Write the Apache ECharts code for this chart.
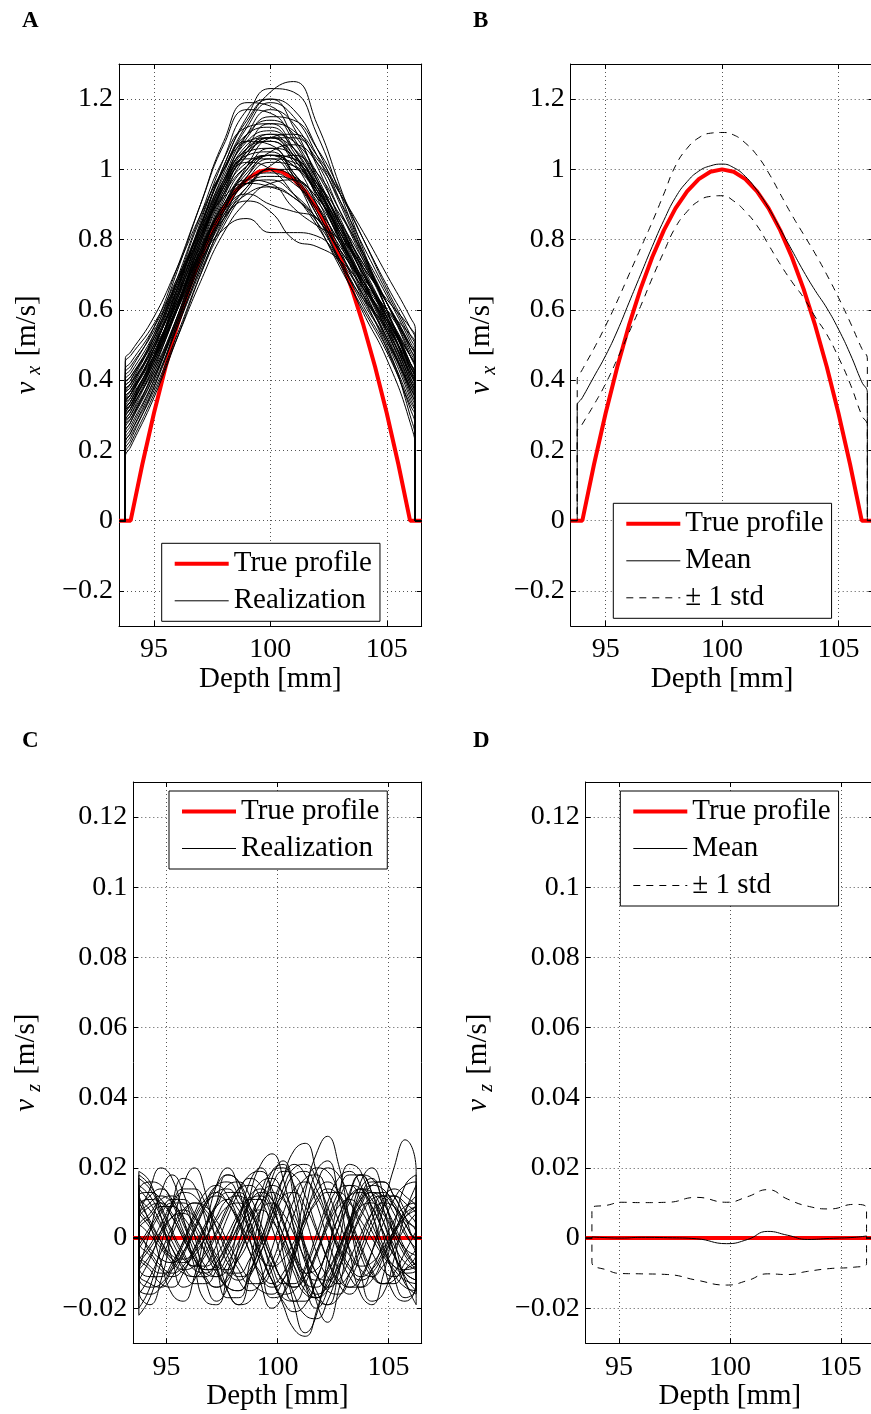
<!DOCTYPE html>
<html><head><meta charset="utf-8">
<script src="https://cdn.jsdelivr.net/npm/echarts@6/dist/echarts.min.js"></script>
<style>html,body{margin:0;padding:0;background:#fff}#chart{width:871px;height:1414px}</style>
</head><body><div id="chart"></div>
<script>
// ---------- axis ticks ----------
const depthTicks = [95, 100, 105];
const vxTicks = [-0.2, 0, 0.2, 0.4, 0.6, 0.8, 1, 1.2];
const vzTicks = [-0.02, 0, 0.02, 0.04, 0.06, 0.08, 0.1, 0.12];
const XMIN = 93.5, XMAX = 106.5;

// ---------- true profiles ----------
const trueDepth = [93.5, 94, 94.5, 95, 95.5, 96, 96.5, 97, 97.5, 98, 98.5, 99, 99.5, 100, 100.5, 101, 101.5, 102, 102.5, 103, 103.5, 104, 104.5, 105, 105.5, 106, 106.5];
const trueVx = [0, 0, 0.1597, 0.3056, 0.4375, 0.5556, 0.6597, 0.75, 0.8264, 0.8889, 0.9375, 0.9722, 0.9931, 1, 0.9931, 0.9722, 0.9375, 0.8889, 0.8264, 0.75, 0.6597, 0.5556, 0.4375, 0.3056, 0.1597, 0, 0];
const trueVzDepth = [93.5, 106.5];
const trueVz = [0, 0];

// ---------- panel A: vx realizations ----------
const vxRealDepth = [93.77, 94, 95, 96, 97, 98, 99, 100, 101, 102, 103, 104, 105, 106, 106.23];
const vxRealizations = [
 [0.30,0.33,0.46,0.63,0.80,0.95,1.05,1.08,1.02,0.90,0.76,0.64,0.52,0.38,0.34],
 [0.38,0.40,0.52,0.68,0.84,0.98,1.10,1.14,1.10,0.98,0.84,0.70,0.58,0.45,0.41],
 [0.22,0.25,0.38,0.55,0.72,0.86,0.93,0.95,0.92,0.85,0.74,0.62,0.50,0.30,0.22],
 [0.41,0.43,0.55,0.72,0.90,1.07,1.17,1.16,1.08,0.96,0.83,0.70,0.59,0.47,0.43],
 [0.27,0.30,0.44,0.60,0.77,0.89,0.96,0.98,0.97,0.92,0.82,0.70,0.57,0.41,0.37],
 [0.35,0.37,0.48,0.62,0.79,0.94,1.02,1.00,0.93,0.84,0.73,0.63,0.55,0.44,0.40],
 [0.31,0.34,0.47,0.64,0.82,0.99,1.12,1.19,1.15,1.04,0.90,0.75,0.60,0.43,0.38],
 [0.19,0.22,0.36,0.52,0.68,0.82,0.91,0.96,0.97,0.91,0.80,0.68,0.55,0.40,0.35],
 [0.45,0.47,0.56,0.69,0.83,0.97,1.05,1.06,0.99,0.88,0.76,0.66,0.57,0.47,0.44],
 [0.33,0.36,0.49,0.66,0.85,1.03,1.17,1.20,1.12,0.97,0.80,0.65,0.52,0.37,0.32],
 [0.28,0.31,0.45,0.61,0.76,0.88,0.93,0.90,0.88,0.86,0.78,0.67,0.56,0.42,0.38],
 [0.36,0.38,0.50,0.64,0.78,0.90,0.99,1.05,1.07,1.02,0.91,0.78,0.65,0.52,0.48],
 [0.24,0.27,0.40,0.57,0.74,0.89,1.00,1.06,1.04,0.95,0.81,0.66,0.51,0.35,0.30],
 [0.39,0.41,0.51,0.65,0.81,0.96,1.07,1.10,1.04,0.93,0.80,0.67,0.54,0.39,0.35],
 [0.30,0.32,0.43,0.58,0.75,0.91,1.01,1.04,1.01,0.94,0.84,0.73,0.62,0.49,0.45],
 [0.34,0.37,0.50,0.67,0.83,0.96,1.03,1.03,0.97,0.87,0.74,0.61,0.49,0.34,0.30],
 [0.26,0.29,0.42,0.58,0.76,0.93,1.06,1.13,1.11,1.02,0.88,0.74,0.60,0.45,0.40],
 [0.42,0.44,0.54,0.68,0.82,0.92,0.96,0.95,0.92,0.86,0.77,0.67,0.57,0.45,0.41],
 [0.32,0.35,0.49,0.66,0.84,1.01,1.15,1.23,1.22,1.10,0.93,0.76,0.60,0.44,0.39],
 [0.21,0.24,0.37,0.53,0.70,0.84,0.94,1.00,1.00,0.94,0.83,0.70,0.57,0.42,0.37],
 [0.37,0.39,0.50,0.64,0.80,0.95,1.04,1.05,0.99,0.90,0.79,0.69,0.60,0.50,0.47],
 [0.29,0.32,0.46,0.63,0.81,0.97,1.08,1.11,1.06,0.95,0.81,0.67,0.53,0.37,0.32],
 [0.35,0.37,0.47,0.60,0.74,0.83,0.86,0.82,0.82,0.81,0.74,0.64,0.54,0.42,0.38],
 [0.31,0.33,0.45,0.61,0.79,0.95,1.06,1.09,1.04,0.94,0.82,0.70,0.58,0.44,0.40],
 [0.40,0.42,0.53,0.67,0.82,0.97,1.09,1.15,1.14,1.06,0.94,0.80,0.66,0.53,0.49],
 [0.25,0.28,0.41,0.57,0.73,0.87,0.97,1.02,1.01,0.95,0.85,0.74,0.62,0.49,0.44],
 [0.36,0.38,0.51,0.68,0.86,1.00,1.08,1.07,0.98,0.85,0.72,0.60,0.48,0.33,0.29],
 [0.33,0.35,0.46,0.60,0.76,0.90,1.00,1.04,1.03,0.96,0.85,0.72,0.58,0.41,0.36],
 [0.18,0.21,0.35,0.52,0.70,0.86,0.98,1.04,1.03,0.95,0.82,0.68,0.54,0.39,0.34],
 [0.38,0.40,0.53,0.71,0.90,1.08,1.19,1.18,1.09,0.97,0.84,0.71,0.59,0.45,0.41],
 [0.30,0.33,0.47,0.62,0.76,0.87,0.95,1.01,1.04,0.99,0.88,0.75,0.62,0.48,0.44],
 [0.34,0.36,0.48,0.63,0.77,0.89,0.96,0.97,0.93,0.86,0.77,0.68,0.60,0.53,0.50],
 [0.28,0.31,0.44,0.60,0.78,0.94,1.05,1.10,1.08,0.99,0.86,0.71,0.56,0.40,0.35],
 [0.43,0.45,0.55,0.68,0.81,0.93,1.01,1.04,1.01,0.93,0.81,0.68,0.55,0.40,0.36],
 [0.27,0.29,0.41,0.56,0.72,0.88,1.01,1.09,1.10,1.04,0.93,0.80,0.67,0.55,0.51],
 [0.32,0.34,0.47,0.65,0.84,1.00,1.10,1.12,1.05,0.92,0.77,0.63,0.51,0.38,0.34],
 [0.37,0.39,0.49,0.62,0.77,0.90,0.97,0.99,0.96,0.89,0.79,0.68,0.58,0.47,0.43],
 [0.23,0.26,0.40,0.58,0.77,0.93,1.02,1.04,0.98,0.87,0.73,0.59,0.46,0.28,0.19],
 [0.33,0.36,0.49,0.66,0.84,1.00,1.13,1.22,1.25,1.13,0.95,0.77,0.60,0.43,0.38],
 [0.31,0.34,0.46,0.61,0.77,0.90,0.97,0.96,0.89,0.84,0.80,0.72,0.62,0.50,0.46],
 [0.20,0.23,0.38,0.56,0.75,0.92,1.04,1.09,1.06,0.97,0.84,0.71,0.58,0.44,0.40],
 [0.46,0.48,0.58,0.72,0.87,1.00,1.08,1.09,1.03,0.93,0.82,0.72,0.63,0.55,0.52],
 [0.29,0.32,0.46,0.64,0.83,1.01,1.14,1.20,1.17,1.06,0.91,0.76,0.62,0.47,0.42],
 [0.34,0.36,0.47,0.61,0.75,0.86,0.91,0.88,0.80,0.78,0.74,0.66,0.56,0.43,0.39],
 [0.25,0.28,0.43,0.61,0.80,0.96,1.06,1.08,1.03,0.93,0.80,0.66,0.52,0.36,0.31],
 [0.39,0.41,0.52,0.66,0.81,0.95,1.04,1.09,1.09,1.03,0.93,0.82,0.70,0.58,0.54],
 [0.31,0.33,0.45,0.61,0.79,0.96,1.10,1.17,1.13,1.01,0.85,0.69,0.54,0.38,0.33],
 [0.22,0.25,0.39,0.55,0.71,0.85,0.95,1.00,0.98,0.92,0.83,0.73,0.62,0.50,0.46],
 [0.36,0.39,0.52,0.69,0.87,1.03,1.12,1.13,1.06,0.94,0.79,0.64,0.49,0.32,0.26],
 [0.28,0.30,0.42,0.57,0.73,0.88,0.98,1.03,1.02,0.96,0.87,0.76,0.64,0.51,0.47]
];

// ---------- panel B: vx mean and +/- 1 std ----------
const vxStatDepth = [93.78, 94, 94.5, 95, 95.5, 96, 96.5, 97, 97.5, 98, 98.5, 99, 99.5, 100, 100.5, 101, 101.5, 102, 102.5, 103, 103.5, 104, 104.5, 105, 105.5, 106, 106.24];
const vxMean  = [0.326, 0.35, 0.41, 0.47, 0.54, 0.62, 0.70, 0.78, 0.855, 0.92, 0.965, 0.995, 1.01, 1.015, 1.005, 0.98, 0.94, 0.89, 0.83, 0.77, 0.71, 0.655, 0.605, 0.545, 0.475, 0.395, 0.364];
const vxUpper = [0.40, 0.43, 0.49, 0.555, 0.625, 0.70, 0.775, 0.85, 0.93, 1.01, 1.06, 1.09, 1.103, 1.105, 1.098, 1.075, 1.04, 0.99, 0.93, 0.87, 0.815, 0.76, 0.70, 0.635, 0.565, 0.49, 0.46];
const vxLower = [0.25, 0.275, 0.33, 0.39, 0.46, 0.535, 0.61, 0.69, 0.765, 0.835, 0.88, 0.91, 0.923, 0.925, 0.91, 0.88, 0.84, 0.785, 0.73, 0.68, 0.635, 0.58, 0.53, 0.465, 0.39, 0.30, 0.27];

// ---------- panel C: vz realizations ----------
const vzRealDepth = [93.75, 94.25, 94.75, 95.25, 95.75, 96.25, 96.75, 97.25, 97.75, 98.25, 98.75, 99.25, 99.75, 100.25, 100.75, 101.25, 101.75, 102.25, 102.75, 103.25, 103.75, 104.25, 104.75, 105.25, 105.75, 106.25];
const vzRealizations = [
 [0.008,0.012,0.014,0.011,0.005,-0.002,-0.008,-0.011,-0.009,-0.003,0.004,0.010,0.013,0.011,0.005,-0.003,-0.010,-0.014,-0.012,-0.006,0.001,0.007,0.010,0.009,0.005,0.002],
 [-0.005,-0.009,-0.013,-0.014,-0.010,-0.003,0.004,0.009,0.011,0.008,0.002,-0.005,-0.012,-0.017,-0.018,-0.013,-0.005,0.003,0.009,0.011,0.008,0.002,-0.004,-0.008,-0.009,-0.007],
 [0.015,0.012,0.006,-0.001,-0.006,-0.008,-0.005,0.001,0.008,0.014,0.017,0.015,0.009,0.001,-0.006,-0.010,-0.009,-0.004,0.003,0.010,0.014,0.013,0.008,0.002,-0.003,-0.005],
 [-0.012,-0.006,0.002,0.009,0.013,0.012,0.007,0.000,-0.007,-0.011,-0.010,-0.004,0.004,0.012,0.018,0.019,0.014,0.006,-0.002,-0.008,-0.011,-0.009,-0.004,0.002,0.007,0.009],
 [0.003,0.007,0.011,0.012,0.009,0.003,-0.004,-0.010,-0.014,-0.015,-0.011,-0.004,0.005,0.014,0.020,0.021,0.017,0.009,0.001,-0.005,-0.008,-0.007,-0.003,0.002,0.006,0.008],
 [-0.022,-0.017,-0.007,0.001,0.007,0.010,0.009,0.005,-0.001,-0.007,-0.012,-0.015,-0.016,-0.012,-0.004,0.006,0.015,0.020,0.018,0.011,0.003,-0.004,-0.009,-0.011,-0.009,-0.006],
 [0.010,0.005,-0.001,-0.006,-0.009,-0.008,-0.004,0.002,0.009,0.014,0.015,0.011,0.003,-0.007,-0.016,-0.022,-0.023,-0.018,-0.009,0.001,0.009,0.013,0.012,0.007,0.001,-0.003],
 [0.000,-0.004,-0.008,-0.010,-0.008,-0.003,0.003,0.009,0.013,0.013,0.009,0.002,-0.006,-0.012,-0.014,-0.011,-0.004,0.004,0.011,0.015,0.014,0.009,0.002,-0.005,-0.010,-0.012],
 [0.006,0.010,0.012,0.010,0.004,-0.004,-0.011,-0.014,-0.012,-0.005,0.004,0.013,0.019,0.020,0.015,0.006,-0.004,-0.011,-0.013,-0.010,-0.003,0.005,0.011,0.014,0.012,0.008],
 [-0.008,-0.011,-0.011,-0.007,-0.001,0.006,0.011,0.013,0.010,0.004,-0.004,-0.010,-0.013,-0.010,-0.003,0.006,0.013,0.016,0.013,0.006,-0.002,-0.009,-0.013,-0.013,-0.009,-0.004],
 [0.013,0.016,0.015,0.010,0.002,-0.006,-0.012,-0.014,-0.011,-0.005,0.002,0.008,0.010,0.007,0.001,-0.006,-0.011,-0.012,-0.008,-0.001,0.006,0.011,0.012,0.009,0.004,0.000],
 [-0.002,0.003,0.008,0.011,0.011,0.007,0.000,-0.008,-0.015,-0.019,-0.018,-0.012,-0.003,0.007,0.014,0.016,0.012,0.005,-0.003,-0.009,-0.012,-0.010,-0.005,0.001,0.006,0.009],
 [0.004,0.001,-0.003,-0.007,-0.010,-0.011,-0.008,-0.002,0.006,0.013,0.018,0.019,0.014,0.005,-0.005,-0.013,-0.017,-0.015,-0.009,-0.001,0.007,0.012,0.013,0.010,0.004,-0.001],
 [-0.014,-0.016,-0.014,-0.009,-0.002,0.005,0.010,0.012,0.010,0.005,-0.001,-0.006,-0.008,-0.006,-0.001,0.005,0.010,0.013,0.013,0.010,0.005,0.000,-0.005,-0.009,-0.012,-0.013],
 [0.011,0.008,0.003,-0.003,-0.008,-0.011,-0.011,-0.007,-0.001,0.006,0.011,0.012,0.008,0.001,-0.008,-0.015,-0.017,-0.013,-0.005,0.004,0.011,0.015,0.014,0.009,0.002,-0.004],
 [-0.006,-0.002,0.004,0.010,0.014,0.014,0.010,0.003,-0.005,-0.012,-0.015,-0.013,-0.007,0.002,0.011,0.017,0.018,0.013,0.005,-0.003,-0.009,-0.011,-0.008,-0.003,0.003,0.007],
 [0.017,0.014,0.008,0.001,-0.005,-0.009,-0.010,-0.007,-0.002,0.003,0.007,0.008,0.005,-0.001,-0.008,-0.013,-0.014,-0.010,-0.003,0.005,0.011,0.013,0.010,0.004,-0.003,-0.008],
 [-0.010,-0.013,-0.014,-0.011,-0.005,0.002,0.009,0.013,0.014,0.010,0.003,-0.005,-0.012,-0.016,-0.015,-0.009,-0.001,0.008,0.014,0.015,0.011,0.004,-0.003,-0.008,-0.010,-0.009],
 [0.002,0.006,0.009,0.009,0.006,0.001,-0.004,-0.008,-0.009,-0.006,0.000,0.008,0.015,0.019,0.018,0.012,0.003,-0.006,-0.013,-0.016,-0.012,-0.004,0.008,0.020,0.028,0.019],
 [-0.004,-0.008,-0.010,-0.009,-0.004,0.003,0.010,0.015,0.016,0.012,0.005,-0.004,-0.012,-0.018,-0.021,-0.019,-0.012,-0.003,0.006,0.012,0.014,0.011,0.005,-0.002,-0.007,-0.009],
 [0.008,0.004,-0.001,-0.005,-0.006,-0.004,0.000,0.005,0.009,0.010,0.007,0.001,-0.006,-0.012,-0.014,-0.011,-0.004,0.005,0.013,0.018,0.018,0.013,0.005,-0.004,-0.011,-0.015],
 [-0.016,-0.011,-0.004,0.003,0.008,0.010,0.008,0.003,-0.003,-0.009,-0.013,-0.013,-0.009,-0.002,0.007,0.015,0.020,0.019,0.013,0.004,-0.005,-0.011,-0.013,-0.010,-0.004,0.002],
 [0.012,0.013,0.011,0.006,0.000,-0.006,-0.010,-0.011,-0.007,-0.001,0.006,0.012,0.015,0.013,0.007,-0.002,-0.010,-0.015,-0.016,-0.012,-0.005,0.003,0.009,0.012,0.010,0.006],
 [-0.001,-0.005,-0.009,-0.011,-0.009,-0.004,0.003,0.010,0.015,0.016,0.012,0.004,-0.005,-0.013,-0.018,-0.018,-0.012,-0.003,0.006,0.012,0.013,0.009,0.002,-0.005,-0.010,-0.012],
 [0.005,0.009,0.010,0.007,0.001,-0.005,-0.009,-0.009,-0.005,0.002,0.010,0.016,0.017,0.012,0.003,-0.007,-0.015,-0.019,-0.017,-0.010,-0.001,0.007,0.012,0.012,0.008,0.003],
 [-0.009,-0.005,0.001,0.006,0.008,0.006,0.001,-0.005,-0.010,-0.012,-0.009,-0.002,0.007,0.017,0.025,0.027,0.019,0.007,-0.004,-0.011,-0.014,-0.012,-0.006,0.001,0.008,0.012],
 [0.014,0.010,0.004,-0.003,-0.009,-0.013,-0.013,-0.009,-0.002,0.006,0.012,0.014,0.011,0.004,-0.004,-0.010,-0.012,-0.009,-0.003,0.004,0.009,0.010,0.007,0.001,-0.005,-0.009],
 [-0.003,0.002,0.007,0.010,0.010,0.006,0.000,-0.006,-0.010,-0.010,-0.006,0.000,0.007,0.012,0.013,0.009,0.002,-0.006,-0.012,-0.014,-0.011,-0.004,0.004,0.011,0.015,0.016],
 [0.007,0.003,-0.002,-0.006,-0.007,-0.005,0.000,0.006,0.011,0.012,0.008,0.000,-0.010,-0.019,-0.026,-0.028,-0.021,-0.009,0.003,0.013,0.018,0.017,0.011,0.003,-0.004,-0.008],
 [-0.011,-0.014,-0.013,-0.008,-0.001,0.007,0.013,0.015,0.012,0.005,-0.004,-0.011,-0.014,-0.012,-0.005,0.004,0.011,0.014,0.012,0.005,-0.003,-0.010,-0.013,-0.012,-0.007,-0.002],
 [0.001,-0.003,-0.006,-0.007,-0.004,0.002,0.009,0.015,0.018,0.016,0.009,0.000,-0.008,-0.013,-0.013,-0.008,0.001,0.010,0.017,0.019,0.015,0.007,-0.002,-0.010,-0.014,-0.015],
 [0.009,0.011,0.010,0.006,0.000,-0.006,-0.009,-0.008,-0.003,0.004,0.010,0.013,0.011,0.005,-0.004,-0.012,-0.016,-0.014,-0.007,0.002,0.010,0.015,0.016,0.012,0.006,0.001],
 [-0.007,-0.003,0.002,0.006,0.007,0.004,-0.002,-0.009,-0.014,-0.015,-0.010,-0.001,0.009,0.017,0.021,0.018,0.010,0.000,-0.009,-0.014,-0.014,-0.009,-0.002,0.005,0.009,0.010],
 [0.018,0.015,0.009,0.002,-0.004,-0.008,-0.008,-0.005,0.001,0.007,0.011,0.011,0.006,-0.002,-0.010,-0.016,-0.017,-0.012,-0.004,0.005,0.012,0.016,0.016,0.012,0.006,0.000],
 [0.019,0.016,0.006,-0.006,-0.014,-0.012,-0.002,0.010,0.018,0.016,0.005,-0.008,-0.017,-0.016,-0.006,0.008,0.019,0.022,0.012,-0.004,-0.016,-0.019,-0.011,0.003,0.015,0.018],
 [-0.015,-0.019,-0.012,0.002,0.015,0.020,0.013,-0.002,-0.015,-0.019,-0.011,0.004,0.017,0.022,0.014,-0.003,-0.018,-0.024,-0.015,0.001,0.014,0.017,0.009,-0.004,-0.013,-0.016],
 [0.004,0.014,0.020,0.017,0.006,-0.008,-0.018,-0.019,-0.010,0.004,0.016,0.020,0.012,-0.004,-0.019,-0.027,-0.022,-0.006,0.011,0.021,0.019,0.008,-0.006,-0.016,-0.018,-0.012],
 [-0.009,0.002,0.013,0.018,0.013,0.001,-0.012,-0.018,-0.014,-0.002,0.012,0.021,0.024,0.017,0.002,-0.013,-0.020,-0.015,-0.002,0.012,0.018,0.013,0.001,-0.011,-0.017,-0.014],
 [0.012,0.004,-0.007,-0.016,-0.018,-0.011,0.002,0.015,0.020,0.014,0.000,-0.013,-0.020,-0.016,-0.003,0.013,0.024,0.029,0.021,0.005,-0.010,-0.018,-0.016,-0.006,0.007,0.015],
 [-0.020,-0.014,-0.002,0.010,0.017,0.015,0.005,-0.008,-0.017,-0.017,-0.007,0.008,0.019,0.021,0.011,-0.005,-0.017,-0.019,-0.010,0.004,0.016,0.020,0.013,0.000,-0.012,-0.019]
];

// ---------- panel D: vz mean and +/- 1 std ----------
const vzStatDepth = [93.78, 94.5, 95.1, 96, 97.2, 98.5, 99.85, 100.8, 101.7, 102.6, 103.5, 104.5, 105.6, 106.16];
const vzMean  = [0.0003, 0.0001, 0.0000, 0.0002, 0.0001, -0.0002, -0.0016, -0.0004, 0.0019, 0.0008, -0.0004, -0.0001, 0.0002, 0.0006];
const vzUpper = [0.0085, 0.0094, 0.0102, 0.0101, 0.0102, 0.0116, 0.0102, 0.0118, 0.0138, 0.0111, 0.0091, 0.0083, 0.0096, 0.0085];
const vzLower = [-0.0068, -0.0092, -0.0101, -0.0102, -0.0104, -0.0120, -0.0134, -0.0121, -0.0102, -0.0104, -0.0095, -0.0087, -0.0083, -0.0073];

// ---------- styling ----------
const FONT = 'Liberation Serif, Times New Roman, serif';
const RED = '#ff0000';
const DASH = [7, 6];

function zip(d, v) { return d.map((x, i) => [x, v[i]]); }
function withEdges(d, v) {
  const pts = [[XMIN, 0], [d[0], 0]];
  d.forEach((x, i) => pts.push([x, v[i]]));
  pts.push([d[d.length - 1], 0], [XMAX, 0]);
  return pts;
}
function fmt(v) { return v < 0 ? '\u2212' + String(-v) : String(v); }

const grids = [
  {left: 119, top: 64, width: 302.7, height: 562},
  {left: 570.7, top: 64, width: 302.7, height: 562},
  {left: 133.3, top: 782, width: 288.4, height: 561.3},
  {left: 585.7, top: 782, width: 288.4, height: 561.3}
].map(g => Object.assign({outerBoundsMode: 'none', containLabel: false}, g));

const tickStyle = {color: '#000', width: 1};
const splitStyle = {type: [1, 3], color: '#555', width: 1};
const labelStyle = {color: '#000', fontFamily: FONT, fontSize: 28};
const nameStyle = {color: '#000', fontFamily: FONT, fontSize: 29};

const xAxes = [], yAxes = [];
for (let i = 0; i < 4; i++) {
  xAxes.push({type: 'value', gridIndex: i, min: XMIN, max: XMAX, position: 'bottom',
    axisLine: {show: true, onZero: false, lineStyle: tickStyle},
    axisTick: {show: true, inside: true, length: 5, customValues: depthTicks, lineStyle: tickStyle},
    axisLabel: Object.assign({show: true, customValues: depthTicks, margin: 10, formatter: fmt}, labelStyle),
    splitLine: {show: true, lineStyle: splitStyle},
    name: 'Depth [mm]', nameLocation: 'middle', nameGap: 38, nameTextStyle: nameStyle});
}
for (let i = 0; i < 4; i++) {
  xAxes.push({type: 'value', gridIndex: i, min: XMIN, max: XMAX, position: 'top',
    axisLine: {show: true, onZero: false, lineStyle: tickStyle},
    axisTick: {show: true, inside: true, length: 5, customValues: depthTicks, lineStyle: tickStyle},
    axisLabel: {show: false}, splitLine: {show: false}});
}
const yConf = [
  {ticks: vxTicks, min: -0.3, max: 1.3, sub: 'x', gap: 74},
  {ticks: vxTicks, min: -0.3, max: 1.3, sub: 'x', gap: 71},
  {ticks: vzTicks, min: -0.03, max: 0.13, sub: 'z', gap: 89},
  {ticks: vzTicks, min: -0.03, max: 0.13, sub: 'z', gap: 89}
];
for (let i = 0; i < 4; i++) {
  const c = yConf[i];
  yAxes.push({type: 'value', gridIndex: i, min: c.min, max: c.max, position: 'left',
    axisLine: {show: true, onZero: false, lineStyle: tickStyle},
    axisTick: {show: true, inside: true, length: 5, customValues: c.ticks, lineStyle: tickStyle},
    axisLabel: Object.assign({show: true, customValues: c.ticks, margin: 6, formatter: fmt}, labelStyle),
    splitLine: {show: true, lineStyle: splitStyle},
    name: '{i|v}{s|' + c.sub + '} [m/s]', nameLocation: 'middle', nameGap: c.gap, nameRotate: 90,
    nameTextStyle: Object.assign({rich: {
      i: {fontFamily: FONT, fontSize: 29, fontStyle: 'italic', color: '#000'},
      s: {fontFamily: FONT, fontSize: 20, fontStyle: 'italic', color: '#000', padding: [16, 2, 0, 7]}
    }}, nameStyle)});
}
for (let i = 0; i < 4; i++) {
  const c = yConf[i];
  yAxes.push({type: 'value', gridIndex: i, min: c.min, max: c.max, position: 'right',
    axisLine: {show: true, onZero: false, lineStyle: tickStyle},
    axisTick: {show: true, inside: true, length: 5, customValues: c.ticks, lineStyle: tickStyle},
    axisLabel: {show: false}, splitLine: {show: false}});
}

const series = [];
function addLine(i, name, data, color, width, type, smooth) {
  series.push({type: 'line', name: name, xAxisIndex: i, yAxisIndex: i, data: data,
    symbol: 'none', smooth: smooth || false, silent: true, animation: false,
    lineStyle: {color: color, width: width, type: type || 'solid'}, itemStyle: {color: color}});
}
// A
addLine(0, 'True profile', zip(trueDepth, trueVx), RED, 4);
vxRealizations.forEach(r => addLine(0, 'Realization', withEdges(vxRealDepth, r), '#000', 1, 'solid', 0.5));
// B
addLine(1, 'True profile', zip(trueDepth, trueVx), RED, 4);
addLine(1, 'Mean', withEdges(vxStatDepth, vxMean), '#000', 1, 'solid', 0.5);
addLine(1, '\u00b1 1 std', withEdges(vxStatDepth, vxUpper), '#000', 1, DASH, 0.5);
addLine(1, '\u00b1 1 std', withEdges(vxStatDepth, vxLower), '#000', 1, DASH, 0.5);
// C
addLine(2, 'True profile', zip(trueVzDepth, trueVz), RED, 4);
vzRealizations.forEach(r => addLine(2, 'Realization', withEdges(vzRealDepth, r), '#000', 1, 'solid', 0.5));
// D
addLine(3, 'True profile', zip(trueVzDepth, trueVz), RED, 4);
addLine(3, 'Mean', withEdges(vzStatDepth, vzMean), '#000', 1, 'solid', 0.5);
addLine(3, '\u00b1 1 std', withEdges(vzStatDepth, vzUpper), '#000', 1, DASH, 0.5);
addLine(3, '\u00b1 1 std', withEdges(vzStatDepth, vzLower), '#000', 1, DASH, 0.5);

const noSymbol = {color: 'rgba(0,0,0,0)', borderColor: 'rgba(0,0,0,0)', borderWidth: 0, opacity: 0};
const itemTrue = {name: 'True profile', itemStyle: noSymbol, lineStyle: {width: 4, color: RED}};
const itemReal = {name: 'Realization', itemStyle: noSymbol, lineStyle: {width: 1, color: '#000'}};
const itemMean = {name: 'Mean', itemStyle: noSymbol, lineStyle: {width: 1, color: '#000'}};
const itemStd = {name: '\u00b1 1 std', itemStyle: noSymbol, lineStyle: {width: 1, color: '#000', type: DASH}};
function legendAt(left, top, data) {
  return {left: left, top: top, orient: 'vertical', selectedMode: false,
    padding: [6, 8, 6, 11], itemGap: 8, itemWidth: 54, itemHeight: 14,
    backgroundColor: '#fff', borderColor: '#000', borderWidth: 1, borderRadius: 0,
    itemStyle: noSymbol,
    textStyle: {fontFamily: FONT, fontSize: 29, color: '#000', lineHeight: 28},
    data: data};
}

const titleStyle = {fontFamily: FONT, fontSize: 23, fontWeight: 'bold', color: '#000'};
const option = {
  backgroundColor: '#fff',
  animation: false,
  title: [
    {text: 'A', left: 22, top: 10, padding: 0, textStyle: titleStyle},
    {text: 'B', left: 473, top: 10, padding: 0, textStyle: titleStyle},
    {text: 'C', left: 22, top: 730, padding: 0, textStyle: titleStyle},
    {text: 'D', left: 473, top: 730, padding: 0, textStyle: titleStyle}
  ],
  grid: grids,
  xAxis: xAxes,
  yAxis: yAxes,
  legend: [
    legendAt(161.7, 543.3, [itemTrue, itemReal]),
    legendAt(613.3, 503.3, [itemTrue, itemMean, itemStd]),
    legendAt(169, 791, [itemTrue, itemReal]),
    legendAt(620.3, 791, [itemTrue, itemMean, itemStd])
  ],
  series: series
};
const chart = echarts.init(document.getElementById('chart'), null, {renderer: 'canvas', width: 871, height: 1414});
chart.setOption(option);
</script>
</body></html>
